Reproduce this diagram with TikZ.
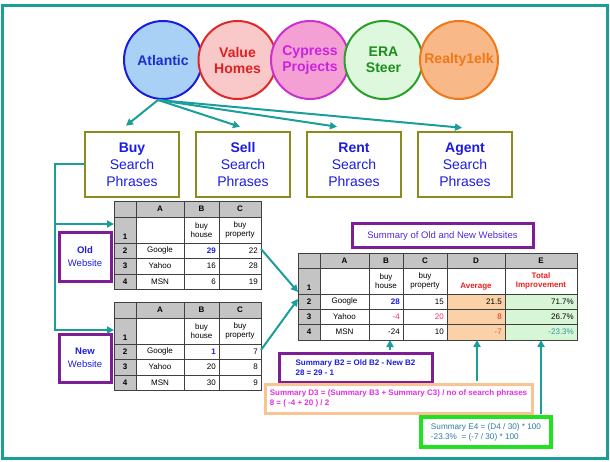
\documentclass[tikz,border=0pt]{standalone}
\usepackage{fontspec}
\setmainfont{Liberation Sans}
\usetikzlibrary{arrows.meta,calc}
\definecolor{tealc}{HTML}{1A9E9A}
\definecolor{olivec}{HTML}{8C8C1E}
\definecolor{purplec}{HTML}{7E1E96}
\definecolor{bluec}{HTML}{1C1CE0}
\definecolor{hdrc}{HTML}{C4C4C4}
\definecolor{gridc}{HTML}{404040}
\definecolor{peachc}{HTML}{FBD1A7}
\definecolor{peachb}{HTML}{FAC394}
\definecolor{lgreenc}{HTML}{D6F6D6}
\definecolor{redc}{HTML}{E82020}
\definecolor{pinkc}{HTML}{E8307A}
\definecolor{magc}{HTML}{E030E0}
\definecolor{e4c}{HTML}{2E7DA0}
\definecolor{brgreen}{HTML}{22E022}
\tikzset{
  conn/.style={draw=tealc, line width=2pt},
  arr/.style={conn, -{Triangle[length=7pt,width=7pt]}},
  circ/.style={circle, minimum size=78pt, line width=2pt, align=center, inner sep=0pt,
     font=\fontsize{14}{16}\selectfont\bfseries},
  phr/.style={draw=olivec, line width=2.5pt, minimum width=94pt, minimum height=65pt,
     align=center, text=bluec, font=\fontsize{14}{17}\selectfont, inner sep=0pt},
  web/.style={draw=purplec, line width=3pt, minimum width=52pt, minimum height=48pt,
     align=center, text=bluec, font=\fontsize{9.5}{13}\selectfont, inner sep=0pt},
  tb/.style={inner sep=0pt, font=\fontsize{8}{9.5}\selectfont, align=center},
  tbh/.style={tb, font=\fontsize{8}{9.5}\selectfont\bfseries},
  grid/.style={draw=gridc, line width=0.8pt},
  note/.style={line width=3pt, align=left, inner sep=0pt,
     font=\fontsize{8}{10}\selectfont\bfseries}
}
\newcommand{\smtable}[8]{%
\begin{scope}[shift={(0,#2)}]
 \fill[hdrc] (114,0) rectangle (261,16);
 \fill[hdrc] (114,16) rectangle (136,88);
 \draw[grid] (114,0) rectangle (261,88);
 \foreach \xx in {136,184,219} \draw[grid] (\xx,0) -- (\xx,88);
 \foreach \yy in {16,42,57,73} \draw[grid] (114,\yy) -- (261,\yy);
 \node[tbh] (#1hA) at (160,8) {A};
 \node[tbh] (#1hB) at (201.5,8) {B};
 \node[tbh] (#1hC) at (240,8) {C};
 \node[tbh] (#1r1) at (125,36) {1};
 \node[tbh] (#1r2) at (125,49.5) {2};
 \node[tbh] (#1r3) at (125,65) {3};
 \node[tbh] (#1r4) at (125,80.5) {4};
 \node[tb] (#1B1) at (201.5,29) {buy\\house};
 \node[tb] (#1C1) at (240,29) {buy\\property};
 \node[tb] (#1A2) at (160,49.5) {Google};
 \node[tb] (#1A3) at (160,65) {Yahoo};
 \node[tb] (#1A4) at (160,80.5) {MSN};
 \node[tbh, text=bluec, anchor=east] (#1B2) at (216,49.5) {#3};
 \node[tb, anchor=east] (#1C2) at (258,49.5) {#4};
 \node[tb, anchor=east] (#1B3) at (216,65) {#5};
 \node[tb, anchor=east] (#1C3) at (258,65) {#6};
 \node[tb, anchor=east] (#1B4) at (216,80.5) {#7};
 \node[tb, anchor=east] (#1C4) at (258,80.5) {#8};
 \coordinate (#1out) at (261,48);
 \coordinate (#1in) at (114,23);
\end{scope}}
\begin{document}
\begin{tikzpicture}[x=1pt,y=-1pt]
\useasboundingbox (0,0) rectangle (610,462);
\draw[draw=tealc, line width=3pt] (2,6) rectangle (607,458);

% circles
\node[circ, draw=bluec, fill={rgb,255:red,169;green,208;blue,245}, text={rgb,255:red,26;green,48;blue,204}] (atl) at (163,60) {Atlantic};
\node[circ, draw={rgb,255:red,224;green,40;blue,40}, fill={rgb,255:red,249;green,201;blue,201}, text={rgb,255:red,224;green,32;blue,32}] (val) at (237.5,60) {Value\\Homes};
\node[circ, draw={rgb,255:red,204;green,48;blue,208}, fill={rgb,255:red,244;green,160;blue,212}, text={rgb,255:red,204;green,34;blue,221}] (cyp) at (310,60) {Cypress\\Projects};
\node[circ, draw={rgb,255:red,42;green,160;blue,42}, fill={rgb,255:red,222;green,248;blue,222}, text={rgb,255:red,30;green,142;blue,30}] (era) at (383.5,60) {ERA\\Steer};
\node[circ, draw={rgb,255:red,240;green,120;blue,24}, fill={rgb,255:red,248;green,184;blue,136}, text={rgb,255:red,240;green,120;blue,24}] (rea) at (459,60) {Realty1elk};

% phrase boxes
\node[phr] (buy) at (132,164.5) {\textbf{Buy}\\Search\\Phrases};
\node[phr] (sell) at (243,164.5) {\textbf{Sell}\\Search\\Phrases};
\node[phr] (rent) at (354,164.5) {\textbf{Rent}\\Search\\Phrases};
\node[phr] (agent) at (465,164.5) {\textbf{Agent}\\Search\\Phrases};

\coordinate (atlfoot) at (158,100);
\draw[arr] (atlfoot) -- ($(buy.north)+(-6,-5)$);
\draw[arr] (atlfoot) -- ($(sell.north)+(-3,-4)$);
\draw[arr] (atlfoot) -- ($(rent.north)+(-17,-4)$);
\draw[arr] (atlfoot) -- ($(agent.north)+(-3,-3)$);

% website labels
\node[web] (oldw) at (85,257) {\textbf{Old}\\Website};
\node[web] (neww) at (85,358) {\textbf{New}\\Website};

% tables
\smtable{o}{201}{29}{22}{16}{28}{6}{19}
\smtable{n}{302}{1}{7}{20}{8}{30}{9}

\coordinate (trunk) at (55,0);
\draw[arr] (buy.west) -- (buy.west -| trunk) |- (oin);
\draw[arr] (buy.west -| trunk) |- ($(nin)+(0,5)$);

% summary table
\node[draw=purplec, line width=3pt, minimum width=181pt, minimum height=24pt, inner sep=0pt,
  text={rgb,255:red,80;green,40;blue,220}, font=\fontsize{9.5}{11}\selectfont] (sumt) at (442.5,236) {Summary of Old and New Websites};
\fill[hdrc] (298,253) rectangle (577,268);
\fill[hdrc] (298,268) rectangle (320,340);
\fill[peachc] (447,294) rectangle (505,340);
\fill[lgreenc] (505,294) rectangle (577,340);
\draw[grid] (298,253) rectangle (577,340);
\foreach \xx in {320,369,403,447,505} \draw[grid] (\xx,253) -- (\xx,340);
\foreach \yy in {268,294,309,324} \draw[grid] (298,\yy) -- (577,\yy);
\node[tbh] (shA) at (344.5,260.5) {A};
\node[tbh] (shB) at (386,260.5) {B};
\node[tbh] (shC) at (425,260.5) {C};
\node[tbh] (shD) at (476,260.5) {D};
\node[tbh] (shE) at (541,260.5) {E};
\node[tbh] (sr1) at (309,288) {1};
\node[tbh] (sr2) at (309,301.5) {2};
\node[tbh] (sr3) at (309,316.5) {3};
\node[tbh] (sr4) at (309,332) {4};
\node[tb] (sB1) at (386,281) {buy\\house};
\node[tb] (sC1) at (425,281) {buy\\property};
\node[tbh, text=redc] (sD1) at (476,287) {Average};
\node[tbh, text=redc] (sE1) at (541,281) {Total\\Improvement};
\node[tb] (sA2) at (344.5,301.5) {Google};
\node[tb] (sA3) at (344.5,316.5) {Yahoo};
\node[tb] (sA4) at (344.5,332) {MSN};
\node[tbh, text=bluec, anchor=east] (sB2) at (400,301.5) {28};
\node[tb, anchor=east] (sC2) at (444,301.5) {15};
\node[tb, anchor=east] (sD2) at (502,301.5) {21.5};
\node[tb, anchor=east] (sE2) at (574,301.5) {71.7\%};
\node[tb, text=pinkc, anchor=east] (sB3) at (400,316.5) {-4};
\node[tb, text=pinkc, anchor=east] (sC3) at (444,316.5) {20};
\node[tb, text=redc, anchor=east] (sD3) at (502,316.5) {8};
\node[tb, anchor=east] (sE3) at (574,316.5) {26.7\%};
\node[tb, anchor=east] (sB4) at (400,332) {-24};
\node[tb, anchor=east] (sC4) at (444,332) {10};
\node[tb, text={rgb,255:red,200;green,96;blue,64}, anchor=east] (sD4) at (502,332) {-7};
\node[tb, text={rgb,255:red,42;green,154;blue,160}, anchor=east] (sE4) at (574,332) {-23.3\%};
\coordinate (sin1) at (298,292);
\coordinate (sin2) at (298,299);
\coordinate (sbot) at (0,340);

\draw[arr] (oout) -- (sin1);
\draw[arr] (nout) -- (sin2);

% formula notes
\node[note, draw=purplec, text=bluec, minimum width=153pt, minimum height=29pt] (b2) at (355.5,367.5)
  {Summary B2 = Old B2 - New B2\\ 28 = 29 - 1};
\node[note, draw=peachb, text=magc, minimum width=267pt, minimum height=29pt] (d3) at (398.5,398.5)
  {Summary D3 = (Summary B3 + Summary C3) / no of search phrases\\8 = ( -4 + 20 ) / 2};
\node[note, draw=brgreen, line width=3.5pt, text=e4c, minimum width=130pt, minimum height=30pt,
  font=\fontsize{8.2}{10}\selectfont] (e4) at (486,432)
  {Summary E4 = (D4 / 30) * 100\\-23.3\%~~= (-7 / 30) * 100};

\coordinate (b2t) at ($(b2.north)+(34.5,-1.5)$);
\coordinate (d3t) at ($(d3.north)+(78.5,-1.5)$);
\coordinate (e4t) at ($(e4.north)+(55,-1.75)$);
\draw[arr] (b2t) -- (b2t |- sbot);
\draw[arr] (d3t) -- (d3t |- sbot);
\draw[arr] (e4t) -- (e4t |- sbot);
\end{tikzpicture}
\end{document}
